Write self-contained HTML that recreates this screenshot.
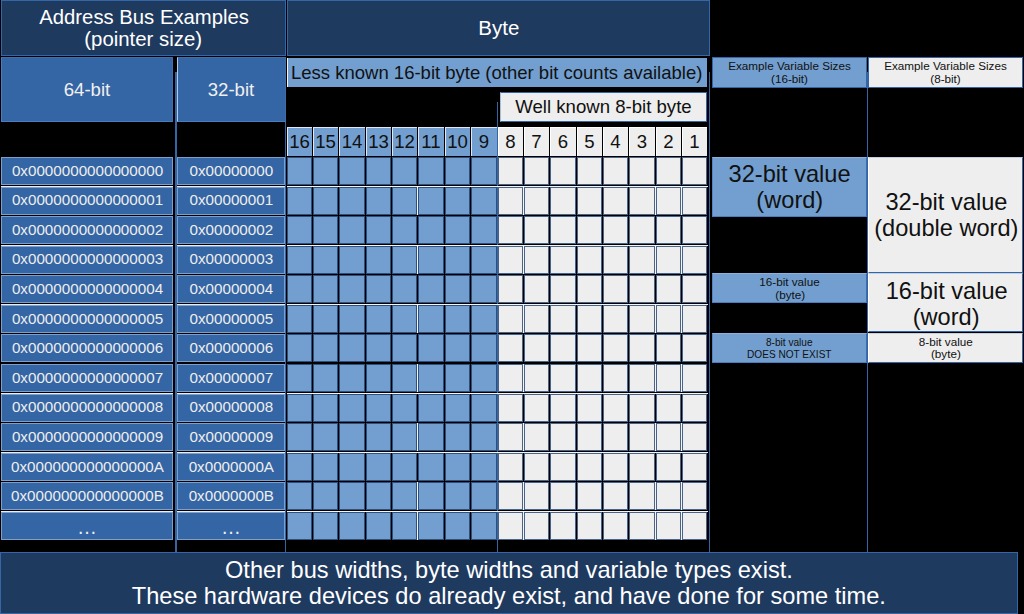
<!DOCTYPE html>
<html><head><meta charset="utf-8"><style>
html,body{margin:0;padding:0;background:#000;width:1024px;height:614px;overflow:hidden}
body{position:relative;font-family:"Liberation Sans",sans-serif}
.b{position:absolute;box-sizing:border-box}
.t{position:absolute;width:800px;text-align:center;white-space:pre}
</style></head><body>
<div class="b" style="left:175px;top:72px;width:2px;height:480px;background:#3465a4"></div>
<div class="b" style="left:285px;top:100px;width:1px;height:452px;background:#3465a4"></div>
<div class="b" style="left:497px;top:102px;width:1px;height:450px;background:#3465a4"></div>
<div class="b" style="left:709px;top:72px;width:1px;height:480px;background:#3465a4"></div>
<div class="b" style="left:867px;top:72px;width:1px;height:480px;background:#3465a4"></div>
<div class="b" style="left:1px;top:0px;width:285px;height:56px;background:#1f3a5f;border:1px solid #3567a8;"></div>
<div class="t" style="left:-255.90px;top:6.92px;font-size:20.3px;line-height:20.3px;color:#fff;">Address Bus Examples</div>
<div class="t" style="left:-256.80px;top:28.53px;font-size:20.4px;line-height:20.4px;color:#fff;">(pointer size)</div>
<div class="b" style="left:287px;top:0px;width:423px;height:56px;background:#1f3a5f;border:1px solid #3567a8;"></div>
<div class="t" style="left:98.80px;top:17.95px;font-size:20.5px;line-height:20.5px;color:#fff;">Byte</div>
<div class="b" style="left:1px;top:57px;width:172px;height:65px;background:#3465a4;border-style:solid;border-width:1px;border-color:#3d6fb0 #3d6fb0 #4a7cc2 #4a7cc2;"></div>
<div class="t" style="left:-313.00px;top:81.06px;font-size:18.6px;line-height:18.6px;color:#f0f0f0;">64-bit</div>
<div class="b" style="left:177px;top:57px;width:109px;height:65px;background:#3465a4;border-style:solid;border-width:1px;border-color:#3d6fb0 #3d6fb0 #4a7cc2 #b4c9e6;"></div>
<div class="t" style="left:-169.00px;top:81.06px;font-size:18.6px;line-height:18.6px;color:#f0f0f0;">32-bit</div>
<div class="b" style="left:287px;top:58px;width:420px;height:29px;background:#729fcf;border-left:1px solid #f0f4fa;"></div>
<div class="t" style="left:96.70px;top:63.84px;font-size:18.5px;line-height:18.5px;color:#111;">Less known 16-bit byte (other bit counts available)</div>
<div class="b" style="left:500px;top:92px;width:207px;height:30px;background:#eeeeee;border-style:solid;border-width:1px;border-color:#3465a4 #3465a4 #3465a4 #a9bedb;"></div>
<div class="t" style="left:203.50px;top:98.26px;font-size:18.6px;line-height:18.6px;color:#111;">Well known 8-bit byte</div>
<div class="b" style="left:287px;top:186px;width:421px;height:1px;background:#f4f6fa"></div>
<div class="b" style="left:287px;top:245px;width:421px;height:1px;background:#f4f6fa"></div>
<div class="b" style="left:287px;top:304px;width:421px;height:1px;background:#f4f6fa"></div>
<div class="b" style="left:287px;top:393px;width:421px;height:1px;background:#f4f6fa"></div>
<div class="b" style="left:287px;top:452px;width:421px;height:1px;background:#f4f6fa"></div>
<div class="b" style="left:287px;top:511px;width:421px;height:1px;background:#f4f6fa"></div>
<div class="b" style="left:417px;top:187px;width:1px;height:28px;background:#f4f6fa"></div>
<div class="b" style="left:523px;top:187px;width:1px;height:28px;background:#f4f6fa"></div>
<div class="b" style="left:655px;top:187px;width:1px;height:28px;background:#f4f6fa"></div>
<div class="b" style="left:681px;top:187px;width:1px;height:28px;background:#f4f6fa"></div>
<div class="b" style="left:417px;top:246px;width:1px;height:28px;background:#f4f6fa"></div>
<div class="b" style="left:523px;top:246px;width:1px;height:28px;background:#f4f6fa"></div>
<div class="b" style="left:655px;top:246px;width:1px;height:28px;background:#f4f6fa"></div>
<div class="b" style="left:681px;top:246px;width:1px;height:28px;background:#f4f6fa"></div>
<div class="b" style="left:417px;top:305px;width:1px;height:28px;background:#f4f6fa"></div>
<div class="b" style="left:523px;top:305px;width:1px;height:28px;background:#f4f6fa"></div>
<div class="b" style="left:655px;top:305px;width:1px;height:28px;background:#f4f6fa"></div>
<div class="b" style="left:681px;top:305px;width:1px;height:28px;background:#f4f6fa"></div>
<div class="b" style="left:417px;top:364px;width:1px;height:28px;background:#f4f6fa"></div>
<div class="b" style="left:523px;top:364px;width:1px;height:28px;background:#f4f6fa"></div>
<div class="b" style="left:655px;top:364px;width:1px;height:28px;background:#f4f6fa"></div>
<div class="b" style="left:681px;top:364px;width:1px;height:28px;background:#f4f6fa"></div>
<div class="b" style="left:417px;top:423px;width:1px;height:28px;background:#f4f6fa"></div>
<div class="b" style="left:523px;top:423px;width:1px;height:28px;background:#f4f6fa"></div>
<div class="b" style="left:655px;top:423px;width:1px;height:28px;background:#f4f6fa"></div>
<div class="b" style="left:681px;top:423px;width:1px;height:28px;background:#f4f6fa"></div>
<div class="b" style="left:417px;top:482px;width:1px;height:28px;background:#f4f6fa"></div>
<div class="b" style="left:523px;top:482px;width:1px;height:28px;background:#f4f6fa"></div>
<div class="b" style="left:655px;top:482px;width:1px;height:28px;background:#f4f6fa"></div>
<div class="b" style="left:681px;top:482px;width:1px;height:28px;background:#f4f6fa"></div>
<div class="b" style="left:417px;top:512px;width:1px;height:28px;background:#f4f6fa"></div>
<div class="b" style="left:523px;top:512px;width:1px;height:28px;background:#f4f6fa"></div>
<div class="b" style="left:655px;top:512px;width:1px;height:28px;background:#f4f6fa"></div>
<div class="b" style="left:681px;top:512px;width:1px;height:28px;background:#f4f6fa"></div>
<div class="b" style="left:287px;top:127px;width:25px;height:29px;background:#729fcf;border-top:1px solid #dfe8f3;border-left:1px solid #dfe8f3;"></div>
<div class="t" style="left:-100.50px;top:133.26px;font-size:18.6px;line-height:18.6px;color:#111;">16</div>
<div class="b" style="left:287px;top:157px;width:25px;height:28px;background:#729fcf;border:1px solid #2f4f7c;"></div>
<div class="b" style="left:287px;top:187px;width:25px;height:28px;background:#729fcf;border:1px solid #2f4f7c;"></div>
<div class="b" style="left:287px;top:216px;width:25px;height:28px;background:#729fcf;border:1px solid #2f4f7c;"></div>
<div class="b" style="left:287px;top:246px;width:25px;height:28px;background:#729fcf;border:1px solid #2f4f7c;"></div>
<div class="b" style="left:287px;top:275px;width:25px;height:28px;background:#729fcf;border:1px solid #2f4f7c;"></div>
<div class="b" style="left:287px;top:305px;width:25px;height:28px;background:#729fcf;border:1px solid #2f4f7c;"></div>
<div class="b" style="left:287px;top:334px;width:25px;height:28px;background:#729fcf;border:1px solid #2f4f7c;"></div>
<div class="b" style="left:287px;top:364px;width:25px;height:28px;background:#729fcf;border:1px solid #2f4f7c;"></div>
<div class="b" style="left:287px;top:394px;width:25px;height:28px;background:#729fcf;border:1px solid #2f4f7c;"></div>
<div class="b" style="left:287px;top:423px;width:25px;height:28px;background:#729fcf;border:1px solid #2f4f7c;"></div>
<div class="b" style="left:287px;top:453px;width:25px;height:28px;background:#729fcf;border:1px solid #2f4f7c;"></div>
<div class="b" style="left:287px;top:482px;width:25px;height:28px;background:#729fcf;border:1px solid #2f4f7c;"></div>
<div class="b" style="left:287px;top:512px;width:25px;height:28px;background:#729fcf;border:1px solid #2f4f7c;"></div>
<div class="b" style="left:313px;top:127px;width:25px;height:29px;background:#729fcf;border-top:1px solid #dfe8f3;border-left:1px solid #dfe8f3;"></div>
<div class="t" style="left:-74.50px;top:133.26px;font-size:18.6px;line-height:18.6px;color:#111;">15</div>
<div class="b" style="left:313px;top:157px;width:25px;height:28px;background:#729fcf;border:1px solid #2f4f7c;"></div>
<div class="b" style="left:313px;top:187px;width:25px;height:28px;background:#729fcf;border:1px solid #2f4f7c;"></div>
<div class="b" style="left:313px;top:216px;width:25px;height:28px;background:#729fcf;border:1px solid #2f4f7c;"></div>
<div class="b" style="left:313px;top:246px;width:25px;height:28px;background:#729fcf;border:1px solid #2f4f7c;"></div>
<div class="b" style="left:313px;top:275px;width:25px;height:28px;background:#729fcf;border:1px solid #2f4f7c;"></div>
<div class="b" style="left:313px;top:305px;width:25px;height:28px;background:#729fcf;border:1px solid #2f4f7c;"></div>
<div class="b" style="left:313px;top:334px;width:25px;height:28px;background:#729fcf;border:1px solid #2f4f7c;"></div>
<div class="b" style="left:313px;top:364px;width:25px;height:28px;background:#729fcf;border:1px solid #2f4f7c;"></div>
<div class="b" style="left:313px;top:394px;width:25px;height:28px;background:#729fcf;border:1px solid #2f4f7c;"></div>
<div class="b" style="left:313px;top:423px;width:25px;height:28px;background:#729fcf;border:1px solid #2f4f7c;"></div>
<div class="b" style="left:313px;top:453px;width:25px;height:28px;background:#729fcf;border:1px solid #2f4f7c;"></div>
<div class="b" style="left:313px;top:482px;width:25px;height:28px;background:#729fcf;border:1px solid #2f4f7c;"></div>
<div class="b" style="left:313px;top:512px;width:25px;height:28px;background:#729fcf;border:1px solid #2f4f7c;"></div>
<div class="b" style="left:339px;top:127px;width:26px;height:29px;background:#729fcf;border-top:1px solid #dfe8f3;border-left:1px solid #dfe8f3;"></div>
<div class="t" style="left:-48.00px;top:133.26px;font-size:18.6px;line-height:18.6px;color:#111;">14</div>
<div class="b" style="left:339px;top:157px;width:26px;height:28px;background:#729fcf;border:1px solid #2f4f7c;"></div>
<div class="b" style="left:339px;top:187px;width:26px;height:28px;background:#729fcf;border:1px solid #2f4f7c;"></div>
<div class="b" style="left:339px;top:216px;width:26px;height:28px;background:#729fcf;border:1px solid #2f4f7c;"></div>
<div class="b" style="left:339px;top:246px;width:26px;height:28px;background:#729fcf;border:1px solid #2f4f7c;"></div>
<div class="b" style="left:339px;top:275px;width:26px;height:28px;background:#729fcf;border:1px solid #2f4f7c;"></div>
<div class="b" style="left:339px;top:305px;width:26px;height:28px;background:#729fcf;border:1px solid #2f4f7c;"></div>
<div class="b" style="left:339px;top:334px;width:26px;height:28px;background:#729fcf;border:1px solid #2f4f7c;"></div>
<div class="b" style="left:339px;top:364px;width:26px;height:28px;background:#729fcf;border:1px solid #2f4f7c;"></div>
<div class="b" style="left:339px;top:394px;width:26px;height:28px;background:#729fcf;border:1px solid #2f4f7c;"></div>
<div class="b" style="left:339px;top:423px;width:26px;height:28px;background:#729fcf;border:1px solid #2f4f7c;"></div>
<div class="b" style="left:339px;top:453px;width:26px;height:28px;background:#729fcf;border:1px solid #2f4f7c;"></div>
<div class="b" style="left:339px;top:482px;width:26px;height:28px;background:#729fcf;border:1px solid #2f4f7c;"></div>
<div class="b" style="left:339px;top:512px;width:26px;height:28px;background:#729fcf;border:1px solid #2f4f7c;"></div>
<div class="b" style="left:366px;top:127px;width:25px;height:29px;background:#729fcf;border-top:1px solid #dfe8f3;border-left:1px solid #dfe8f3;"></div>
<div class="t" style="left:-21.50px;top:133.26px;font-size:18.6px;line-height:18.6px;color:#111;">13</div>
<div class="b" style="left:366px;top:157px;width:25px;height:28px;background:#729fcf;border:1px solid #2f4f7c;"></div>
<div class="b" style="left:366px;top:187px;width:25px;height:28px;background:#729fcf;border:1px solid #2f4f7c;"></div>
<div class="b" style="left:366px;top:216px;width:25px;height:28px;background:#729fcf;border:1px solid #2f4f7c;"></div>
<div class="b" style="left:366px;top:246px;width:25px;height:28px;background:#729fcf;border:1px solid #2f4f7c;"></div>
<div class="b" style="left:366px;top:275px;width:25px;height:28px;background:#729fcf;border:1px solid #2f4f7c;"></div>
<div class="b" style="left:366px;top:305px;width:25px;height:28px;background:#729fcf;border:1px solid #2f4f7c;"></div>
<div class="b" style="left:366px;top:334px;width:25px;height:28px;background:#729fcf;border:1px solid #2f4f7c;"></div>
<div class="b" style="left:366px;top:364px;width:25px;height:28px;background:#729fcf;border:1px solid #2f4f7c;"></div>
<div class="b" style="left:366px;top:394px;width:25px;height:28px;background:#729fcf;border:1px solid #2f4f7c;"></div>
<div class="b" style="left:366px;top:423px;width:25px;height:28px;background:#729fcf;border:1px solid #2f4f7c;"></div>
<div class="b" style="left:366px;top:453px;width:25px;height:28px;background:#729fcf;border:1px solid #2f4f7c;"></div>
<div class="b" style="left:366px;top:482px;width:25px;height:28px;background:#729fcf;border:1px solid #2f4f7c;"></div>
<div class="b" style="left:366px;top:512px;width:25px;height:28px;background:#729fcf;border:1px solid #2f4f7c;"></div>
<div class="b" style="left:392px;top:127px;width:25px;height:29px;background:#729fcf;border-top:1px solid #dfe8f3;border-left:1px solid #dfe8f3;"></div>
<div class="t" style="left:4.50px;top:133.26px;font-size:18.6px;line-height:18.6px;color:#111;">12</div>
<div class="b" style="left:392px;top:157px;width:25px;height:28px;background:#729fcf;border:1px solid #2f4f7c;"></div>
<div class="b" style="left:392px;top:187px;width:25px;height:28px;background:#729fcf;border:1px solid #2f4f7c;"></div>
<div class="b" style="left:392px;top:216px;width:25px;height:28px;background:#729fcf;border:1px solid #2f4f7c;"></div>
<div class="b" style="left:392px;top:246px;width:25px;height:28px;background:#729fcf;border:1px solid #2f4f7c;"></div>
<div class="b" style="left:392px;top:275px;width:25px;height:28px;background:#729fcf;border:1px solid #2f4f7c;"></div>
<div class="b" style="left:392px;top:305px;width:25px;height:28px;background:#729fcf;border:1px solid #2f4f7c;"></div>
<div class="b" style="left:392px;top:334px;width:25px;height:28px;background:#729fcf;border:1px solid #2f4f7c;"></div>
<div class="b" style="left:392px;top:364px;width:25px;height:28px;background:#729fcf;border:1px solid #2f4f7c;"></div>
<div class="b" style="left:392px;top:394px;width:25px;height:28px;background:#729fcf;border:1px solid #2f4f7c;"></div>
<div class="b" style="left:392px;top:423px;width:25px;height:28px;background:#729fcf;border:1px solid #2f4f7c;"></div>
<div class="b" style="left:392px;top:453px;width:25px;height:28px;background:#729fcf;border:1px solid #2f4f7c;"></div>
<div class="b" style="left:392px;top:482px;width:25px;height:28px;background:#729fcf;border:1px solid #2f4f7c;"></div>
<div class="b" style="left:392px;top:512px;width:25px;height:28px;background:#729fcf;border:1px solid #2f4f7c;"></div>
<div class="b" style="left:418px;top:127px;width:26px;height:29px;background:#729fcf;border-top:1px solid #dfe8f3;border-left:1px solid #dfe8f3;"></div>
<div class="t" style="left:31.00px;top:133.26px;font-size:18.6px;line-height:18.6px;color:#111;">11</div>
<div class="b" style="left:418px;top:157px;width:26px;height:28px;background:#729fcf;border:1px solid #2f4f7c;"></div>
<div class="b" style="left:418px;top:187px;width:26px;height:28px;background:#729fcf;border:1px solid #2f4f7c;"></div>
<div class="b" style="left:418px;top:216px;width:26px;height:28px;background:#729fcf;border:1px solid #2f4f7c;"></div>
<div class="b" style="left:418px;top:246px;width:26px;height:28px;background:#729fcf;border:1px solid #2f4f7c;"></div>
<div class="b" style="left:418px;top:275px;width:26px;height:28px;background:#729fcf;border:1px solid #2f4f7c;"></div>
<div class="b" style="left:418px;top:305px;width:26px;height:28px;background:#729fcf;border:1px solid #2f4f7c;"></div>
<div class="b" style="left:418px;top:334px;width:26px;height:28px;background:#729fcf;border:1px solid #2f4f7c;"></div>
<div class="b" style="left:418px;top:364px;width:26px;height:28px;background:#729fcf;border:1px solid #2f4f7c;"></div>
<div class="b" style="left:418px;top:394px;width:26px;height:28px;background:#729fcf;border:1px solid #2f4f7c;"></div>
<div class="b" style="left:418px;top:423px;width:26px;height:28px;background:#729fcf;border:1px solid #2f4f7c;"></div>
<div class="b" style="left:418px;top:453px;width:26px;height:28px;background:#729fcf;border:1px solid #2f4f7c;"></div>
<div class="b" style="left:418px;top:482px;width:26px;height:28px;background:#729fcf;border:1px solid #2f4f7c;"></div>
<div class="b" style="left:418px;top:512px;width:26px;height:28px;background:#729fcf;border:1px solid #2f4f7c;"></div>
<div class="b" style="left:445px;top:127px;width:25px;height:29px;background:#729fcf;border-top:1px solid #dfe8f3;border-left:1px solid #dfe8f3;"></div>
<div class="t" style="left:57.50px;top:133.26px;font-size:18.6px;line-height:18.6px;color:#111;">10</div>
<div class="b" style="left:445px;top:157px;width:25px;height:28px;background:#729fcf;border:1px solid #2f4f7c;"></div>
<div class="b" style="left:445px;top:187px;width:25px;height:28px;background:#729fcf;border:1px solid #2f4f7c;"></div>
<div class="b" style="left:445px;top:216px;width:25px;height:28px;background:#729fcf;border:1px solid #2f4f7c;"></div>
<div class="b" style="left:445px;top:246px;width:25px;height:28px;background:#729fcf;border:1px solid #2f4f7c;"></div>
<div class="b" style="left:445px;top:275px;width:25px;height:28px;background:#729fcf;border:1px solid #2f4f7c;"></div>
<div class="b" style="left:445px;top:305px;width:25px;height:28px;background:#729fcf;border:1px solid #2f4f7c;"></div>
<div class="b" style="left:445px;top:334px;width:25px;height:28px;background:#729fcf;border:1px solid #2f4f7c;"></div>
<div class="b" style="left:445px;top:364px;width:25px;height:28px;background:#729fcf;border:1px solid #2f4f7c;"></div>
<div class="b" style="left:445px;top:394px;width:25px;height:28px;background:#729fcf;border:1px solid #2f4f7c;"></div>
<div class="b" style="left:445px;top:423px;width:25px;height:28px;background:#729fcf;border:1px solid #2f4f7c;"></div>
<div class="b" style="left:445px;top:453px;width:25px;height:28px;background:#729fcf;border:1px solid #2f4f7c;"></div>
<div class="b" style="left:445px;top:482px;width:25px;height:28px;background:#729fcf;border:1px solid #2f4f7c;"></div>
<div class="b" style="left:445px;top:512px;width:25px;height:28px;background:#729fcf;border:1px solid #2f4f7c;"></div>
<div class="b" style="left:471px;top:127px;width:26px;height:29px;background:#729fcf;border-top:1px solid #dfe8f3;border-left:1px solid #dfe8f3;"></div>
<div class="t" style="left:84.00px;top:133.26px;font-size:18.6px;line-height:18.6px;color:#111;">9</div>
<div class="b" style="left:471px;top:157px;width:26px;height:28px;background:#729fcf;border:1px solid #2f4f7c;"></div>
<div class="b" style="left:471px;top:187px;width:26px;height:28px;background:#729fcf;border:1px solid #2f4f7c;"></div>
<div class="b" style="left:471px;top:216px;width:26px;height:28px;background:#729fcf;border:1px solid #2f4f7c;"></div>
<div class="b" style="left:471px;top:246px;width:26px;height:28px;background:#729fcf;border:1px solid #2f4f7c;"></div>
<div class="b" style="left:471px;top:275px;width:26px;height:28px;background:#729fcf;border:1px solid #2f4f7c;"></div>
<div class="b" style="left:471px;top:305px;width:26px;height:28px;background:#729fcf;border:1px solid #2f4f7c;"></div>
<div class="b" style="left:471px;top:334px;width:26px;height:28px;background:#729fcf;border:1px solid #2f4f7c;"></div>
<div class="b" style="left:471px;top:364px;width:26px;height:28px;background:#729fcf;border:1px solid #2f4f7c;"></div>
<div class="b" style="left:471px;top:394px;width:26px;height:28px;background:#729fcf;border:1px solid #2f4f7c;"></div>
<div class="b" style="left:471px;top:423px;width:26px;height:28px;background:#729fcf;border:1px solid #2f4f7c;"></div>
<div class="b" style="left:471px;top:453px;width:26px;height:28px;background:#729fcf;border:1px solid #2f4f7c;"></div>
<div class="b" style="left:471px;top:482px;width:26px;height:28px;background:#729fcf;border:1px solid #2f4f7c;"></div>
<div class="b" style="left:471px;top:512px;width:26px;height:28px;background:#729fcf;border:1px solid #2f4f7c;"></div>
<div class="b" style="left:498px;top:127px;width:25px;height:29px;background:#eeeeee;border-top:1px solid #ffffff;border-left:1px solid #ffffff;"></div>
<div class="t" style="left:110.50px;top:133.26px;font-size:18.6px;line-height:18.6px;color:#111;">8</div>
<div class="b" style="left:498px;top:157px;width:25px;height:28px;background:#eeeeee;border:1px solid #4a6488;"></div>
<div class="b" style="left:498px;top:187px;width:25px;height:28px;background:#eeeeee;border:1px solid #4a6488;"></div>
<div class="b" style="left:498px;top:216px;width:25px;height:28px;background:#eeeeee;border:1px solid #4a6488;"></div>
<div class="b" style="left:498px;top:246px;width:25px;height:28px;background:#eeeeee;border:1px solid #4a6488;"></div>
<div class="b" style="left:498px;top:275px;width:25px;height:28px;background:#eeeeee;border:1px solid #4a6488;"></div>
<div class="b" style="left:498px;top:305px;width:25px;height:28px;background:#eeeeee;border:1px solid #4a6488;"></div>
<div class="b" style="left:498px;top:334px;width:25px;height:28px;background:#eeeeee;border:1px solid #4a6488;"></div>
<div class="b" style="left:498px;top:364px;width:25px;height:28px;background:#eeeeee;border:1px solid #4a6488;"></div>
<div class="b" style="left:498px;top:394px;width:25px;height:28px;background:#eeeeee;border:1px solid #4a6488;"></div>
<div class="b" style="left:498px;top:423px;width:25px;height:28px;background:#eeeeee;border:1px solid #4a6488;"></div>
<div class="b" style="left:498px;top:453px;width:25px;height:28px;background:#eeeeee;border:1px solid #4a6488;"></div>
<div class="b" style="left:498px;top:482px;width:25px;height:28px;background:#eeeeee;border:1px solid #4a6488;"></div>
<div class="b" style="left:498px;top:512px;width:25px;height:28px;background:#eeeeee;border:1px solid #4a6488;"></div>
<div class="b" style="left:524px;top:127px;width:25px;height:29px;background:#eeeeee;border-top:1px solid #ffffff;border-left:1px solid #ffffff;"></div>
<div class="t" style="left:136.50px;top:133.26px;font-size:18.6px;line-height:18.6px;color:#111;">7</div>
<div class="b" style="left:524px;top:157px;width:25px;height:28px;background:#eeeeee;border:1px solid #4a6488;"></div>
<div class="b" style="left:524px;top:187px;width:25px;height:28px;background:#eeeeee;border:1px solid #4a6488;"></div>
<div class="b" style="left:524px;top:216px;width:25px;height:28px;background:#eeeeee;border:1px solid #4a6488;"></div>
<div class="b" style="left:524px;top:246px;width:25px;height:28px;background:#eeeeee;border:1px solid #4a6488;"></div>
<div class="b" style="left:524px;top:275px;width:25px;height:28px;background:#eeeeee;border:1px solid #4a6488;"></div>
<div class="b" style="left:524px;top:305px;width:25px;height:28px;background:#eeeeee;border:1px solid #4a6488;"></div>
<div class="b" style="left:524px;top:334px;width:25px;height:28px;background:#eeeeee;border:1px solid #4a6488;"></div>
<div class="b" style="left:524px;top:364px;width:25px;height:28px;background:#eeeeee;border:1px solid #4a6488;"></div>
<div class="b" style="left:524px;top:394px;width:25px;height:28px;background:#eeeeee;border:1px solid #4a6488;"></div>
<div class="b" style="left:524px;top:423px;width:25px;height:28px;background:#eeeeee;border:1px solid #4a6488;"></div>
<div class="b" style="left:524px;top:453px;width:25px;height:28px;background:#eeeeee;border:1px solid #4a6488;"></div>
<div class="b" style="left:524px;top:482px;width:25px;height:28px;background:#eeeeee;border:1px solid #4a6488;"></div>
<div class="b" style="left:524px;top:512px;width:25px;height:28px;background:#eeeeee;border:1px solid #4a6488;"></div>
<div class="b" style="left:550px;top:127px;width:26px;height:29px;background:#eeeeee;border-top:1px solid #ffffff;border-left:1px solid #ffffff;"></div>
<div class="t" style="left:163.00px;top:133.26px;font-size:18.6px;line-height:18.6px;color:#111;">6</div>
<div class="b" style="left:550px;top:157px;width:26px;height:28px;background:#eeeeee;border:1px solid #4a6488;"></div>
<div class="b" style="left:550px;top:187px;width:26px;height:28px;background:#eeeeee;border:1px solid #4a6488;"></div>
<div class="b" style="left:550px;top:216px;width:26px;height:28px;background:#eeeeee;border:1px solid #4a6488;"></div>
<div class="b" style="left:550px;top:246px;width:26px;height:28px;background:#eeeeee;border:1px solid #4a6488;"></div>
<div class="b" style="left:550px;top:275px;width:26px;height:28px;background:#eeeeee;border:1px solid #4a6488;"></div>
<div class="b" style="left:550px;top:305px;width:26px;height:28px;background:#eeeeee;border:1px solid #4a6488;"></div>
<div class="b" style="left:550px;top:334px;width:26px;height:28px;background:#eeeeee;border:1px solid #4a6488;"></div>
<div class="b" style="left:550px;top:364px;width:26px;height:28px;background:#eeeeee;border:1px solid #4a6488;"></div>
<div class="b" style="left:550px;top:394px;width:26px;height:28px;background:#eeeeee;border:1px solid #4a6488;"></div>
<div class="b" style="left:550px;top:423px;width:26px;height:28px;background:#eeeeee;border:1px solid #4a6488;"></div>
<div class="b" style="left:550px;top:453px;width:26px;height:28px;background:#eeeeee;border:1px solid #4a6488;"></div>
<div class="b" style="left:550px;top:482px;width:26px;height:28px;background:#eeeeee;border:1px solid #4a6488;"></div>
<div class="b" style="left:550px;top:512px;width:26px;height:28px;background:#eeeeee;border:1px solid #4a6488;"></div>
<div class="b" style="left:577px;top:127px;width:25px;height:29px;background:#eeeeee;border-top:1px solid #ffffff;border-left:1px solid #ffffff;"></div>
<div class="t" style="left:189.50px;top:133.26px;font-size:18.6px;line-height:18.6px;color:#111;">5</div>
<div class="b" style="left:577px;top:157px;width:25px;height:28px;background:#eeeeee;border:1px solid #4a6488;"></div>
<div class="b" style="left:577px;top:187px;width:25px;height:28px;background:#eeeeee;border:1px solid #4a6488;"></div>
<div class="b" style="left:577px;top:216px;width:25px;height:28px;background:#eeeeee;border:1px solid #4a6488;"></div>
<div class="b" style="left:577px;top:246px;width:25px;height:28px;background:#eeeeee;border:1px solid #4a6488;"></div>
<div class="b" style="left:577px;top:275px;width:25px;height:28px;background:#eeeeee;border:1px solid #4a6488;"></div>
<div class="b" style="left:577px;top:305px;width:25px;height:28px;background:#eeeeee;border:1px solid #4a6488;"></div>
<div class="b" style="left:577px;top:334px;width:25px;height:28px;background:#eeeeee;border:1px solid #4a6488;"></div>
<div class="b" style="left:577px;top:364px;width:25px;height:28px;background:#eeeeee;border:1px solid #4a6488;"></div>
<div class="b" style="left:577px;top:394px;width:25px;height:28px;background:#eeeeee;border:1px solid #4a6488;"></div>
<div class="b" style="left:577px;top:423px;width:25px;height:28px;background:#eeeeee;border:1px solid #4a6488;"></div>
<div class="b" style="left:577px;top:453px;width:25px;height:28px;background:#eeeeee;border:1px solid #4a6488;"></div>
<div class="b" style="left:577px;top:482px;width:25px;height:28px;background:#eeeeee;border:1px solid #4a6488;"></div>
<div class="b" style="left:577px;top:512px;width:25px;height:28px;background:#eeeeee;border:1px solid #4a6488;"></div>
<div class="b" style="left:603px;top:127px;width:25px;height:29px;background:#eeeeee;border-top:1px solid #ffffff;border-left:1px solid #ffffff;"></div>
<div class="t" style="left:215.50px;top:133.26px;font-size:18.6px;line-height:18.6px;color:#111;">4</div>
<div class="b" style="left:603px;top:157px;width:25px;height:28px;background:#eeeeee;border:1px solid #4a6488;"></div>
<div class="b" style="left:603px;top:187px;width:25px;height:28px;background:#eeeeee;border:1px solid #4a6488;"></div>
<div class="b" style="left:603px;top:216px;width:25px;height:28px;background:#eeeeee;border:1px solid #4a6488;"></div>
<div class="b" style="left:603px;top:246px;width:25px;height:28px;background:#eeeeee;border:1px solid #4a6488;"></div>
<div class="b" style="left:603px;top:275px;width:25px;height:28px;background:#eeeeee;border:1px solid #4a6488;"></div>
<div class="b" style="left:603px;top:305px;width:25px;height:28px;background:#eeeeee;border:1px solid #4a6488;"></div>
<div class="b" style="left:603px;top:334px;width:25px;height:28px;background:#eeeeee;border:1px solid #4a6488;"></div>
<div class="b" style="left:603px;top:364px;width:25px;height:28px;background:#eeeeee;border:1px solid #4a6488;"></div>
<div class="b" style="left:603px;top:394px;width:25px;height:28px;background:#eeeeee;border:1px solid #4a6488;"></div>
<div class="b" style="left:603px;top:423px;width:25px;height:28px;background:#eeeeee;border:1px solid #4a6488;"></div>
<div class="b" style="left:603px;top:453px;width:25px;height:28px;background:#eeeeee;border:1px solid #4a6488;"></div>
<div class="b" style="left:603px;top:482px;width:25px;height:28px;background:#eeeeee;border:1px solid #4a6488;"></div>
<div class="b" style="left:603px;top:512px;width:25px;height:28px;background:#eeeeee;border:1px solid #4a6488;"></div>
<div class="b" style="left:629px;top:127px;width:26px;height:29px;background:#eeeeee;border-top:1px solid #ffffff;border-left:1px solid #ffffff;"></div>
<div class="t" style="left:242.00px;top:133.26px;font-size:18.6px;line-height:18.6px;color:#111;">3</div>
<div class="b" style="left:629px;top:157px;width:26px;height:28px;background:#eeeeee;border:1px solid #4a6488;"></div>
<div class="b" style="left:629px;top:187px;width:26px;height:28px;background:#eeeeee;border:1px solid #4a6488;"></div>
<div class="b" style="left:629px;top:216px;width:26px;height:28px;background:#eeeeee;border:1px solid #4a6488;"></div>
<div class="b" style="left:629px;top:246px;width:26px;height:28px;background:#eeeeee;border:1px solid #4a6488;"></div>
<div class="b" style="left:629px;top:275px;width:26px;height:28px;background:#eeeeee;border:1px solid #4a6488;"></div>
<div class="b" style="left:629px;top:305px;width:26px;height:28px;background:#eeeeee;border:1px solid #4a6488;"></div>
<div class="b" style="left:629px;top:334px;width:26px;height:28px;background:#eeeeee;border:1px solid #4a6488;"></div>
<div class="b" style="left:629px;top:364px;width:26px;height:28px;background:#eeeeee;border:1px solid #4a6488;"></div>
<div class="b" style="left:629px;top:394px;width:26px;height:28px;background:#eeeeee;border:1px solid #4a6488;"></div>
<div class="b" style="left:629px;top:423px;width:26px;height:28px;background:#eeeeee;border:1px solid #4a6488;"></div>
<div class="b" style="left:629px;top:453px;width:26px;height:28px;background:#eeeeee;border:1px solid #4a6488;"></div>
<div class="b" style="left:629px;top:482px;width:26px;height:28px;background:#eeeeee;border:1px solid #4a6488;"></div>
<div class="b" style="left:629px;top:512px;width:26px;height:28px;background:#eeeeee;border:1px solid #4a6488;"></div>
<div class="b" style="left:656px;top:127px;width:25px;height:29px;background:#eeeeee;border-top:1px solid #ffffff;border-left:1px solid #ffffff;"></div>
<div class="t" style="left:268.50px;top:133.26px;font-size:18.6px;line-height:18.6px;color:#111;">2</div>
<div class="b" style="left:656px;top:157px;width:25px;height:28px;background:#eeeeee;border:1px solid #4a6488;"></div>
<div class="b" style="left:656px;top:187px;width:25px;height:28px;background:#eeeeee;border:1px solid #4a6488;"></div>
<div class="b" style="left:656px;top:216px;width:25px;height:28px;background:#eeeeee;border:1px solid #4a6488;"></div>
<div class="b" style="left:656px;top:246px;width:25px;height:28px;background:#eeeeee;border:1px solid #4a6488;"></div>
<div class="b" style="left:656px;top:275px;width:25px;height:28px;background:#eeeeee;border:1px solid #4a6488;"></div>
<div class="b" style="left:656px;top:305px;width:25px;height:28px;background:#eeeeee;border:1px solid #4a6488;"></div>
<div class="b" style="left:656px;top:334px;width:25px;height:28px;background:#eeeeee;border:1px solid #4a6488;"></div>
<div class="b" style="left:656px;top:364px;width:25px;height:28px;background:#eeeeee;border:1px solid #4a6488;"></div>
<div class="b" style="left:656px;top:394px;width:25px;height:28px;background:#eeeeee;border:1px solid #4a6488;"></div>
<div class="b" style="left:656px;top:423px;width:25px;height:28px;background:#eeeeee;border:1px solid #4a6488;"></div>
<div class="b" style="left:656px;top:453px;width:25px;height:28px;background:#eeeeee;border:1px solid #4a6488;"></div>
<div class="b" style="left:656px;top:482px;width:25px;height:28px;background:#eeeeee;border:1px solid #4a6488;"></div>
<div class="b" style="left:656px;top:512px;width:25px;height:28px;background:#eeeeee;border:1px solid #4a6488;"></div>
<div class="b" style="left:682px;top:127px;width:25px;height:29px;background:#eeeeee;border-top:1px solid #ffffff;border-left:1px solid #ffffff;"></div>
<div class="t" style="left:294.50px;top:133.26px;font-size:18.6px;line-height:18.6px;color:#111;">1</div>
<div class="b" style="left:682px;top:157px;width:25px;height:28px;background:#eeeeee;border:1px solid #4a6488;"></div>
<div class="b" style="left:682px;top:187px;width:25px;height:28px;background:#eeeeee;border:1px solid #4a6488;"></div>
<div class="b" style="left:682px;top:216px;width:25px;height:28px;background:#eeeeee;border:1px solid #4a6488;"></div>
<div class="b" style="left:682px;top:246px;width:25px;height:28px;background:#eeeeee;border:1px solid #4a6488;"></div>
<div class="b" style="left:682px;top:275px;width:25px;height:28px;background:#eeeeee;border:1px solid #4a6488;"></div>
<div class="b" style="left:682px;top:305px;width:25px;height:28px;background:#eeeeee;border:1px solid #4a6488;"></div>
<div class="b" style="left:682px;top:334px;width:25px;height:28px;background:#eeeeee;border:1px solid #4a6488;"></div>
<div class="b" style="left:682px;top:364px;width:25px;height:28px;background:#eeeeee;border:1px solid #4a6488;"></div>
<div class="b" style="left:682px;top:394px;width:25px;height:28px;background:#eeeeee;border:1px solid #4a6488;"></div>
<div class="b" style="left:682px;top:423px;width:25px;height:28px;background:#eeeeee;border:1px solid #4a6488;"></div>
<div class="b" style="left:682px;top:453px;width:25px;height:28px;background:#eeeeee;border:1px solid #4a6488;"></div>
<div class="b" style="left:682px;top:482px;width:25px;height:28px;background:#eeeeee;border:1px solid #4a6488;"></div>
<div class="b" style="left:682px;top:512px;width:25px;height:28px;background:#eeeeee;border:1px solid #4a6488;"></div>
<div class="b" style="left:1px;top:157px;width:172px;height:28px;background:#3465a4;border:1px solid #7f9fcb;"></div>
<div class="b" style="left:177px;top:157px;width:108px;height:28px;background:#3465a4;border:1px solid #7f9fcb;"></div>
<div class="t" style="left:-312.50px;top:162.73px;font-size:15.2px;line-height:15.2px;color:#eee;">0x0000000000000000</div>
<div class="t" style="left:-168.70px;top:162.73px;font-size:15.2px;line-height:15.2px;color:#eee;">0x00000000</div>
<div class="b" style="left:1px;top:186px;width:172px;height:1px;background:#e8eef6"></div>
<div class="b" style="left:177px;top:186px;width:108px;height:1px;background:#e8eef6"></div>
<div class="b" style="left:1px;top:187px;width:172px;height:28px;background:#3465a4;border:1px solid #7f9fcb;"></div>
<div class="b" style="left:177px;top:187px;width:108px;height:28px;background:#3465a4;border:1px solid #7f9fcb;"></div>
<div class="t" style="left:-312.50px;top:192.31px;font-size:15.2px;line-height:15.2px;color:#eee;">0x0000000000000001</div>
<div class="t" style="left:-168.70px;top:192.31px;font-size:15.2px;line-height:15.2px;color:#eee;">0x00000001</div>
<div class="b" style="left:1px;top:216px;width:172px;height:28px;background:#3465a4;border:1px solid #7f9fcb;"></div>
<div class="b" style="left:177px;top:216px;width:108px;height:28px;background:#3465a4;border:1px solid #7f9fcb;"></div>
<div class="t" style="left:-312.50px;top:221.89px;font-size:15.2px;line-height:15.2px;color:#eee;">0x0000000000000002</div>
<div class="t" style="left:-168.70px;top:221.89px;font-size:15.2px;line-height:15.2px;color:#eee;">0x00000002</div>
<div class="b" style="left:1px;top:245px;width:172px;height:1px;background:#e8eef6"></div>
<div class="b" style="left:177px;top:245px;width:108px;height:1px;background:#e8eef6"></div>
<div class="b" style="left:1px;top:246px;width:172px;height:28px;background:#3465a4;border:1px solid #7f9fcb;"></div>
<div class="b" style="left:177px;top:246px;width:108px;height:28px;background:#3465a4;border:1px solid #7f9fcb;"></div>
<div class="t" style="left:-312.50px;top:251.47px;font-size:15.2px;line-height:15.2px;color:#eee;">0x0000000000000003</div>
<div class="t" style="left:-168.70px;top:251.47px;font-size:15.2px;line-height:15.2px;color:#eee;">0x00000003</div>
<div class="b" style="left:1px;top:275px;width:172px;height:28px;background:#3465a4;border:1px solid #7f9fcb;"></div>
<div class="b" style="left:177px;top:275px;width:108px;height:28px;background:#3465a4;border:1px solid #7f9fcb;"></div>
<div class="t" style="left:-312.50px;top:281.05px;font-size:15.2px;line-height:15.2px;color:#eee;">0x0000000000000004</div>
<div class="t" style="left:-168.70px;top:281.05px;font-size:15.2px;line-height:15.2px;color:#eee;">0x00000004</div>
<div class="b" style="left:1px;top:304px;width:172px;height:1px;background:#e8eef6"></div>
<div class="b" style="left:177px;top:304px;width:108px;height:1px;background:#e8eef6"></div>
<div class="b" style="left:1px;top:305px;width:172px;height:28px;background:#3465a4;border:1px solid #7f9fcb;"></div>
<div class="b" style="left:177px;top:305px;width:108px;height:28px;background:#3465a4;border:1px solid #7f9fcb;"></div>
<div class="t" style="left:-312.50px;top:310.63px;font-size:15.2px;line-height:15.2px;color:#eee;">0x0000000000000005</div>
<div class="t" style="left:-168.70px;top:310.63px;font-size:15.2px;line-height:15.2px;color:#eee;">0x00000005</div>
<div class="b" style="left:1px;top:334px;width:172px;height:28px;background:#3465a4;border:1px solid #7f9fcb;"></div>
<div class="b" style="left:177px;top:334px;width:108px;height:28px;background:#3465a4;border:1px solid #7f9fcb;"></div>
<div class="t" style="left:-312.50px;top:340.21px;font-size:15.2px;line-height:15.2px;color:#eee;">0x0000000000000006</div>
<div class="t" style="left:-168.70px;top:340.21px;font-size:15.2px;line-height:15.2px;color:#eee;">0x00000006</div>
<div class="b" style="left:1px;top:364px;width:172px;height:28px;background:#3465a4;border:1px solid #7f9fcb;"></div>
<div class="b" style="left:177px;top:364px;width:108px;height:28px;background:#3465a4;border:1px solid #7f9fcb;"></div>
<div class="t" style="left:-312.50px;top:369.79px;font-size:15.2px;line-height:15.2px;color:#eee;">0x0000000000000007</div>
<div class="t" style="left:-168.70px;top:369.79px;font-size:15.2px;line-height:15.2px;color:#eee;">0x00000007</div>
<div class="b" style="left:1px;top:393px;width:172px;height:1px;background:#e8eef6"></div>
<div class="b" style="left:177px;top:393px;width:108px;height:1px;background:#e8eef6"></div>
<div class="b" style="left:1px;top:394px;width:172px;height:28px;background:#3465a4;border:1px solid #7f9fcb;"></div>
<div class="b" style="left:177px;top:394px;width:108px;height:28px;background:#3465a4;border:1px solid #7f9fcb;"></div>
<div class="t" style="left:-312.50px;top:399.37px;font-size:15.2px;line-height:15.2px;color:#eee;">0x0000000000000008</div>
<div class="t" style="left:-168.70px;top:399.37px;font-size:15.2px;line-height:15.2px;color:#eee;">0x00000008</div>
<div class="b" style="left:1px;top:423px;width:172px;height:28px;background:#3465a4;border:1px solid #7f9fcb;"></div>
<div class="b" style="left:177px;top:423px;width:108px;height:28px;background:#3465a4;border:1px solid #7f9fcb;"></div>
<div class="t" style="left:-312.50px;top:428.95px;font-size:15.2px;line-height:15.2px;color:#eee;">0x0000000000000009</div>
<div class="t" style="left:-168.70px;top:428.95px;font-size:15.2px;line-height:15.2px;color:#eee;">0x00000009</div>
<div class="b" style="left:1px;top:452px;width:172px;height:1px;background:#e8eef6"></div>
<div class="b" style="left:177px;top:452px;width:108px;height:1px;background:#e8eef6"></div>
<div class="b" style="left:1px;top:453px;width:172px;height:28px;background:#3465a4;border:1px solid #7f9fcb;"></div>
<div class="b" style="left:177px;top:453px;width:108px;height:28px;background:#3465a4;border:1px solid #7f9fcb;"></div>
<div class="t" style="left:-312.50px;top:458.53px;font-size:15.2px;line-height:15.2px;color:#eee;">0x000000000000000A</div>
<div class="t" style="left:-168.70px;top:458.53px;font-size:15.2px;line-height:15.2px;color:#eee;">0x0000000A</div>
<div class="b" style="left:1px;top:482px;width:172px;height:28px;background:#3465a4;border:1px solid #7f9fcb;"></div>
<div class="b" style="left:177px;top:482px;width:108px;height:28px;background:#3465a4;border:1px solid #7f9fcb;"></div>
<div class="t" style="left:-312.50px;top:488.11px;font-size:15.2px;line-height:15.2px;color:#eee;">0x000000000000000B</div>
<div class="t" style="left:-168.70px;top:488.11px;font-size:15.2px;line-height:15.2px;color:#eee;">0x0000000B</div>
<div class="b" style="left:1px;top:511px;width:172px;height:1px;background:#e8eef6"></div>
<div class="b" style="left:177px;top:511px;width:108px;height:1px;background:#e8eef6"></div>
<div class="b" style="left:1px;top:512px;width:172px;height:28px;background:#3465a4;border:1px solid #7f9fcb;"></div>
<div class="b" style="left:177px;top:512px;width:108px;height:28px;background:#3465a4;border:1px solid #7f9fcb;"></div>
<div class="t" style="left:-313.00px;top:516.63px;font-size:20px;line-height:20px;color:#eee;">…</div>
<div class="t" style="left:-169.00px;top:516.63px;font-size:20px;line-height:20px;color:#eee;">…</div>
<div class="b" style="left:712px;top:57px;width:155px;height:31px;background:#729fcf;border:1px solid #3465a4;"></div>
<div class="t" style="left:389.50px;top:59.60px;font-size:11.7px;line-height:11.7px;color:#111;">Example Variable Sizes</div>
<div class="t" style="left:389.50px;top:73.10px;font-size:11.7px;line-height:11.7px;color:#111;">(16-bit)</div>
<div class="b" style="left:868px;top:57px;width:155px;height:31px;background:#eeeeee;border:1px solid #3465a4;"></div>
<div class="t" style="left:545.50px;top:59.60px;font-size:11.7px;line-height:11.7px;color:#111;">Example Variable Sizes</div>
<div class="t" style="left:545.50px;top:73.10px;font-size:11.7px;line-height:11.7px;color:#111;">(8-bit)</div>
<div class="b" style="left:712px;top:157px;width:155px;height:60px;background:#729fcf;border-style:solid;border-width:1px;border-color:#8db0dc #3a6cb0 #4a7cc0 #5384c4;"></div>
<div class="t" style="left:389.60px;top:163.02px;font-size:23.6px;line-height:23.6px;color:#111;">32-bit value</div>
<div class="t" style="left:389.80px;top:189.02px;font-size:23.6px;line-height:23.6px;color:#111;">(word)</div>
<div class="b" style="left:868px;top:157px;width:155px;height:116px;background:#eeeeee;border-style:solid;border-width:1px;border-color:#c0d0e6 #3465a4 #3465a4 #ffffff;"></div>
<div class="t" style="left:546.40px;top:191.02px;font-size:23.6px;line-height:23.6px;color:#111;">32-bit value</div>
<div class="t" style="left:546.30px;top:217.02px;font-size:23.6px;line-height:23.6px;color:#111;">(double word)</div>
<div class="b" style="left:712px;top:273px;width:155px;height:30px;background:#729fcf;border-style:solid;border-width:1px;border-color:#8db0dc #3a6cb0 #4a7cc0 #5384c4;"></div>
<div class="t" style="left:389.50px;top:276.40px;font-size:11.7px;line-height:11.7px;color:#111;">16-bit value</div>
<div class="t" style="left:390.20px;top:288.90px;font-size:11.7px;line-height:11.7px;color:#111;">(byte)</div>
<div class="b" style="left:868px;top:273px;width:155px;height:59px;background:#eeeeee;border-style:solid;border-width:1px;border-color:#c0d0e6 #3465a4 #3465a4 #ffffff;"></div>
<div class="t" style="left:546.70px;top:279.52px;font-size:23.6px;line-height:23.6px;color:#111;">16-bit value</div>
<div class="t" style="left:546.10px;top:305.52px;font-size:23.6px;line-height:23.6px;color:#111;">(word)</div>
<div class="b" style="left:712px;top:333px;width:155px;height:30px;background:#729fcf;border-style:solid;border-width:1px;border-color:#8db0dc #3a6cb0 #4a7cc0 #5384c4;"></div>
<div class="t" style="left:389.30px;top:337.65px;font-size:10.1px;line-height:10.1px;color:#111;">8-bit value</div>
<div class="t" style="left:389.30px;top:350.25px;font-size:10.1px;line-height:10.1px;color:#111;">DOES NOT EXIST</div>
<div class="b" style="left:868px;top:333px;width:155px;height:30px;background:#eeeeee;border-style:solid;border-width:1px;border-color:#c0d0e6 #3465a4 #3465a4 #ffffff;"></div>
<div class="t" style="left:545.80px;top:335.70px;font-size:11.7px;line-height:11.7px;color:#111;">8-bit value</div>
<div class="t" style="left:545.90px;top:348.10px;font-size:11.7px;line-height:11.7px;color:#111;">(byte)</div>
<div class="b" style="left:0px;top:552px;width:1018px;height:62px;background:#1f3a5f;border:1px solid #3567a8;"></div>
<div class="t" style="left:108.90px;top:559.02px;font-size:23.6px;line-height:23.6px;color:#fff;">Other bus widths, byte widths and variable types exist.</div>
<div class="t" style="left:108.80px;top:585.02px;font-size:23.6px;line-height:23.6px;color:#fff;">These hardware devices do already exist, and have done for some time.</div>
</body></html>
